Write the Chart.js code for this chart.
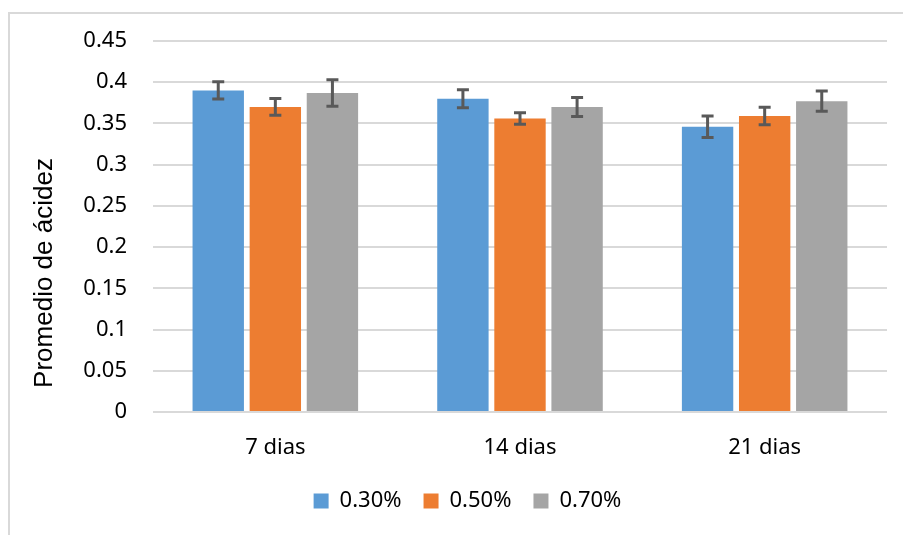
<!DOCTYPE html>
<html>
<head>
<meta charset="utf-8">
<script src="https://cdn.jsdelivr.net/npm/chart.js@4"></script>
<style>
  body { margin: 0; background: #fff; overflow: hidden; }
  .frame { position: absolute; left: 8px; top: 12px; width: 1000px; height: 1000px; border: 2px solid #d9d9d9; }
  .wrap { position: absolute; left: 0; top: 0; width: 903px; height: 535px; }
</style>
</head>
<body>
<div class="frame"></div>
<div class="wrap"><canvas id="chart"></canvas></div>
<script>
// data
const categories = ['7 dias', '14 dias', '21 dias'];
const seriesLabels = ['0.30%', '0.50%', '0.70%'];
const values030 = [0.39, 0.38, 0.346];
const values050 = [0.37, 0.356, 0.359];
const values070 = [0.387, 0.37, 0.377];
const errors030 = [0.0105, 0.011, 0.013];
const errors050 = [0.0102, 0.007, 0.0107];
const errors070 = [0.016, 0.0115, 0.0123];
const colors = ['#5B9BD5', '#ED7D31', '#A5A5A5'];

const tickFont = { family: "'Noto Sans', 'Open Sans', sans-serif", size: 22 };

// error bars drawn through the y scale
const errorBars = {
  id: 'errorBars',
  afterDatasetsDraw(chart) {
    const ctx = chart.ctx;
    const yScale = chart.scales.y;
    ctx.save();
    ctx.strokeStyle = '#595959';
    ctx.lineWidth = 3;
    chart.data.datasets.forEach((ds, di) => {
      const meta = chart.getDatasetMeta(di);
      meta.data.forEach((bar, i) => {
        const v = ds.data[i];
        const e = ds.errors[i];
        const yTop = yScale.getPixelForValue(v + e);
        const yBot = yScale.getPixelForValue(v - e);
        ctx.beginPath();
        ctx.moveTo(bar.x, yTop);
        ctx.lineTo(bar.x, yBot);
        ctx.moveTo(bar.x - 6, yTop);
        ctx.lineTo(bar.x + 6, yTop);
        ctx.moveTo(bar.x - 6, yBot);
        ctx.lineTo(bar.x + 6, yBot);
        ctx.stroke();
      });
    });
    ctx.restore();
  }
};

// rotated y axis title
const yTitle = {
  id: 'yTitle',
  afterDraw(chart) {
    const ctx = chart.ctx;
    ctx.save();
    ctx.translate(45, 273);
    ctx.rotate(-Math.PI / 2);
    ctx.font = "26px 'Liberation Sans', Arial, sans-serif";
    ctx.fillStyle = '#000';
    ctx.textAlign = 'center';
    ctx.textBaseline = 'middle';
    ctx.fillText('Promedio de ácidez', 0, 0);
    ctx.restore();
  }
};

const config = {
  type: 'bar',
  data: {
    labels: categories,
    datasets: [
      { label: seriesLabels[0], data: values030, errors: errors030, backgroundColor: colors[0] },
      { label: seriesLabels[1], data: values050, errors: errors050, backgroundColor: colors[1] },
      { label: seriesLabels[2], data: values070, errors: errors070, backgroundColor: colors[2] }
    ]
  },
  options: {
    responsive: true,
    maintainAspectRatio: false,
    animation: false,
    layout: { padding: { left: 48, right: 16, top: 41, bottom: 13 } },
    datasets: { bar: { categoryPercentage: 0.7, barPercentage: 0.9 } },
    scales: {
      x: {
        grid: { display: false, drawTicks: false },
        border: { display: false },
        ticks: { font: tickFont, color: '#000', padding: 23 },
        afterFit: (scale) => { scale.height = 56; }
      },
      y: {
        min: 0,
        max: 0.45,
        grid: { color: '#d9d9d9', lineWidth: 2, drawTicks: false },
        border: { display: false },
        ticks: {
          stepSize: 0.05,
          font: tickFont,
          color: '#000',
          padding: 26,
          callback: (v) => String(Number(v.toFixed(2)))
        },
        afterFit: (scale) => { scale.width = 105; }
      }
    },
    plugins: {
      legend: {
        position: 'bottom',
        labels: { font: tickFont, color: '#000', boxWidth: 15, boxHeight: 15, padding: 22 }
      },
      tooltip: { enabled: false }
    }
  },
  plugins: [errorBars, yTitle]
};

window.addEventListener('DOMContentLoaded', () => {
  new Chart(document.getElementById('chart'), config);
});
</script>
</body>
</html>
